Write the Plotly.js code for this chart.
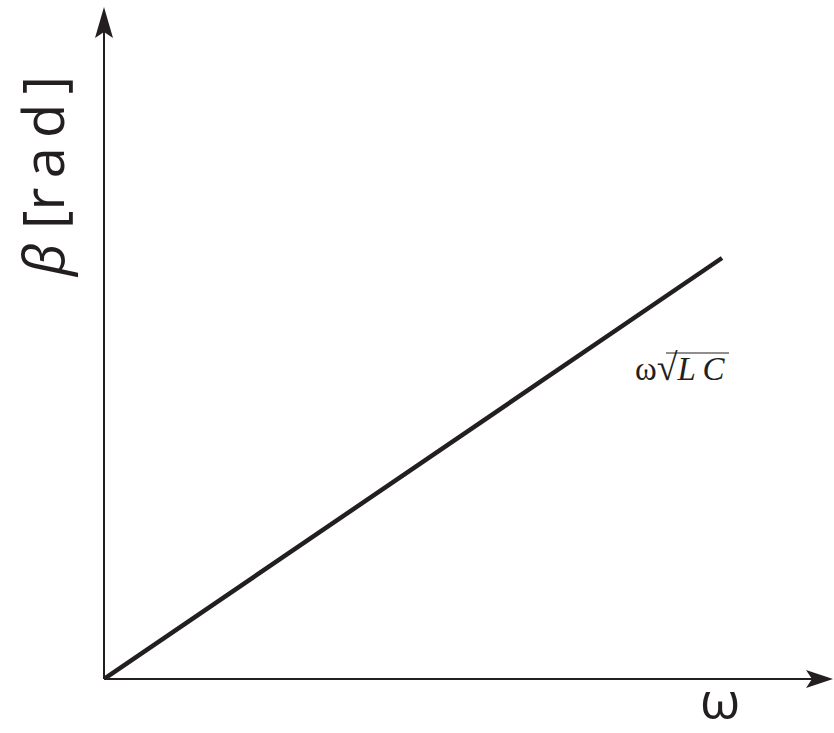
<!DOCTYPE html>
<html>
<head>
<meta charset="utf-8">
<script src="https://cdn.plot.ly/plotly-3.0.1.min.js"></script>
<style>html,body{margin:0;padding:0;background:#fff;}#chart{width:834px;height:733px;}</style>
</head>
<body>
<div id="chart"></div>
<script>
// Data (normalized, no ticks shown in the reference)
var omega = [0, 1];
var beta = [0, 1];
var xLabel = "ω";
var yLabel = "<i>β</i> [r\u2006a\u2006d\u2006]";
var lineLabel = "ω<span style='font-size:38px'>√</span><i>L\u2009C</i>";

var ink = "#231f20";

function px2x(p) { return (p - 104) / 730; }
function px2y(p) { return (679 - p) / 672; }

var trace = {
  x: omega, y: beta, type: "scatter", mode: "lines",
  line: {color: ink, width: 4.5}, cliponaxis: false, hoverinfo: "skip"
};

var layout = {
  width: 834, height: 733,
  margin: {l: 104, r: 0, t: 7, b: 54, pad: 0},
  paper_bgcolor: "#fff", plot_bgcolor: "#fff",
  showlegend: false,
  xaxis: {range: [0, 1.1812], showgrid: false, zeroline: false, showline: false, showticklabels: false, ticks: ""},
  yaxis: {range: [0, 1.5962], showgrid: false, zeroline: false, showline: false, showticklabels: false, ticks: ""},
  shapes: [
    {type: "line", xref: "paper", yref: "paper", x0: 0, x1: 0.985, y0: 0, y1: 0, line: {color: ink, width: 2}},
    {type: "line", xref: "paper", yref: "paper", x0: 0, x1: 0, y0: 0, y1: 0.98, line: {color: ink, width: 2}},
    {type: "path", xref: "paper", yref: "paper", xsizemode: "pixel", ysizemode: "pixel", xanchor: 0, yanchor: 1,
     path: "M0,0 L-9,-31 L0,-25 L9,-31 Z", fillcolor: ink, line: {width: 0}},
    {type: "path", xref: "paper", yref: "paper", xsizemode: "pixel", ysizemode: "pixel", xanchor: 1, yanchor: 0,
     path: "M-1,0 L-28,9 L-22,0 L-28,-9 Z", fillcolor: ink, line: {width: 0}},
    {type: "line", xref: "paper", yref: "paper", x0: px2x(666), x1: px2x(729), y0: px2y(353), y1: px2y(353),
     line: {color: ink, width: 1.2}}
  ],
  annotations: [
    {xref: "paper", yref: "paper", x: px2x(42), y: px2y(177), xanchor: "center", yanchor: "middle",
     text: yLabel, textangle: -90, showarrow: false,
     font: {family: "Open Sans", size: 56, color: ink}},
    {xref: "paper", yref: "paper", x: px2x(720), y: px2y(698), xanchor: "center", yanchor: "middle",
     text: xLabel, showarrow: false,
     font: {family: "Open Sans", size: 52, color: ink}},
    {xref: "paper", yref: "paper", x: px2x(680), y: px2y(367), xanchor: "center", yanchor: "middle",
     text: lineLabel, showarrow: false,
     font: {family: "Liberation Serif", size: 33, color: ink}}
  ]
};

Plotly.newPlot("chart", [trace], layout, {staticPlot: true, displayModeBar: false});
</script>
</body>
</html>
